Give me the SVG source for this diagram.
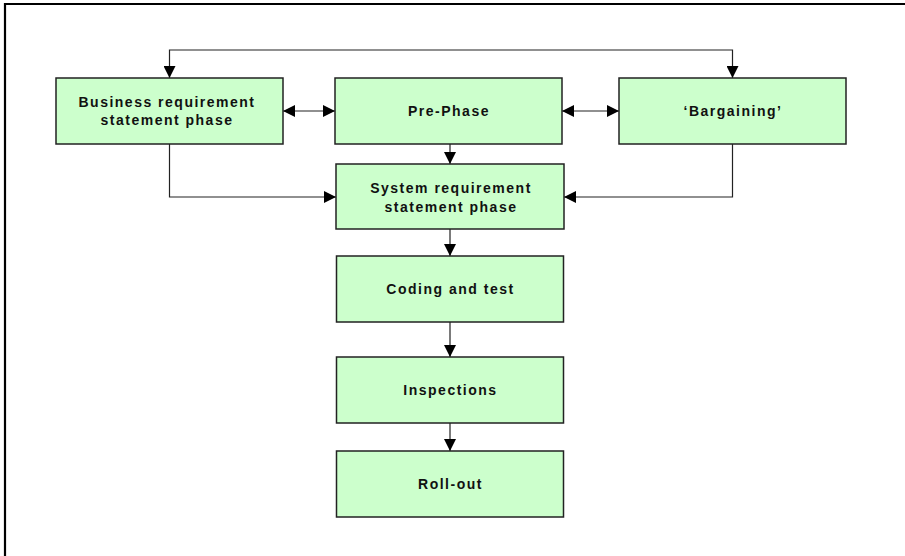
<svg xmlns="http://www.w3.org/2000/svg" width="905" height="556" viewBox="0 0 905 556">
<style>
.box{fill:#ccffcc;stroke:#222;stroke-width:1.5}
.lbl{font-family:"Liberation Sans",Arial,sans-serif;font-weight:bold;font-size:14px;letter-spacing:1.5px;fill:#111;text-anchor:middle}
.con{fill:none;stroke:#222;stroke-width:1.2}
</style>
<defs>
<marker id="ah" markerUnits="userSpaceOnUse" markerWidth="13" markerHeight="12" refX="12" refY="6" orient="auto-start-reverse">
<path d="M0,0 L12,6 L0,12 z" fill="#000"/>
</marker>
</defs>
<rect width="905" height="556" fill="#fff"/>
<path d="M5,556 V4 H905" fill="none" stroke="#000" stroke-width="2.2"/>
<g id="connectors">
<path class="con" d="M169.5,78 V50 H732.5 V78" marker-start="url(#ah)" marker-end="url(#ah)"/>
<path class="con" d="M283,111 H335" marker-start="url(#ah)" marker-end="url(#ah)"/>
<path class="con" d="M562,111 H619" marker-start="url(#ah)" marker-end="url(#ah)"/>
<path class="con" d="M169.5,144 V197 H336" marker-end="url(#ah)"/>
<path class="con" d="M732.5,144 V197 H564" marker-end="url(#ah)"/>
<path class="con" d="M450,144 V164" marker-end="url(#ah)"/>
<path class="con" d="M450,229 V256" marker-end="url(#ah)"/>
<path class="con" d="M450,322 V357" marker-end="url(#ah)"/>
<path class="con" d="M450,423 V451" marker-end="url(#ah)"/>
</g>
<g id="business">
<rect class="box" x="56" y="78" width="227" height="66"/>
<text class="lbl" x="167" y="107">Business requirement</text>
<text class="lbl" x="167" y="125">statement phase</text>
</g>
<g id="prephase">
<rect class="box" x="335" y="78" width="227" height="66"/>
<text class="lbl" x="449" y="116">Pre-Phase</text>
</g>
<g id="bargaining">
<rect class="box" x="619" y="78" width="227" height="66"/>
<text class="lbl" x="733" y="116">‘Bargaining’</text>
</g>
<g id="system">
<rect class="box" x="336" y="164" width="228" height="65"/>
<text class="lbl" x="451" y="193">System requirement</text>
<text class="lbl" x="451" y="211.5">statement phase</text>
</g>
<g id="coding">
<rect class="box" x="336.5" y="256" width="227" height="66"/>
<text class="lbl" x="450.5" y="294">Coding and test</text>
</g>
<g id="inspections">
<rect class="box" x="336.5" y="357" width="227" height="66"/>
<text class="lbl" x="450.5" y="395">Inspections</text>
</g>
<g id="rollout">
<rect class="box" x="336.5" y="451" width="227" height="66"/>
<text class="lbl" x="450.5" y="489">Roll-out</text>
</g>
</svg>
